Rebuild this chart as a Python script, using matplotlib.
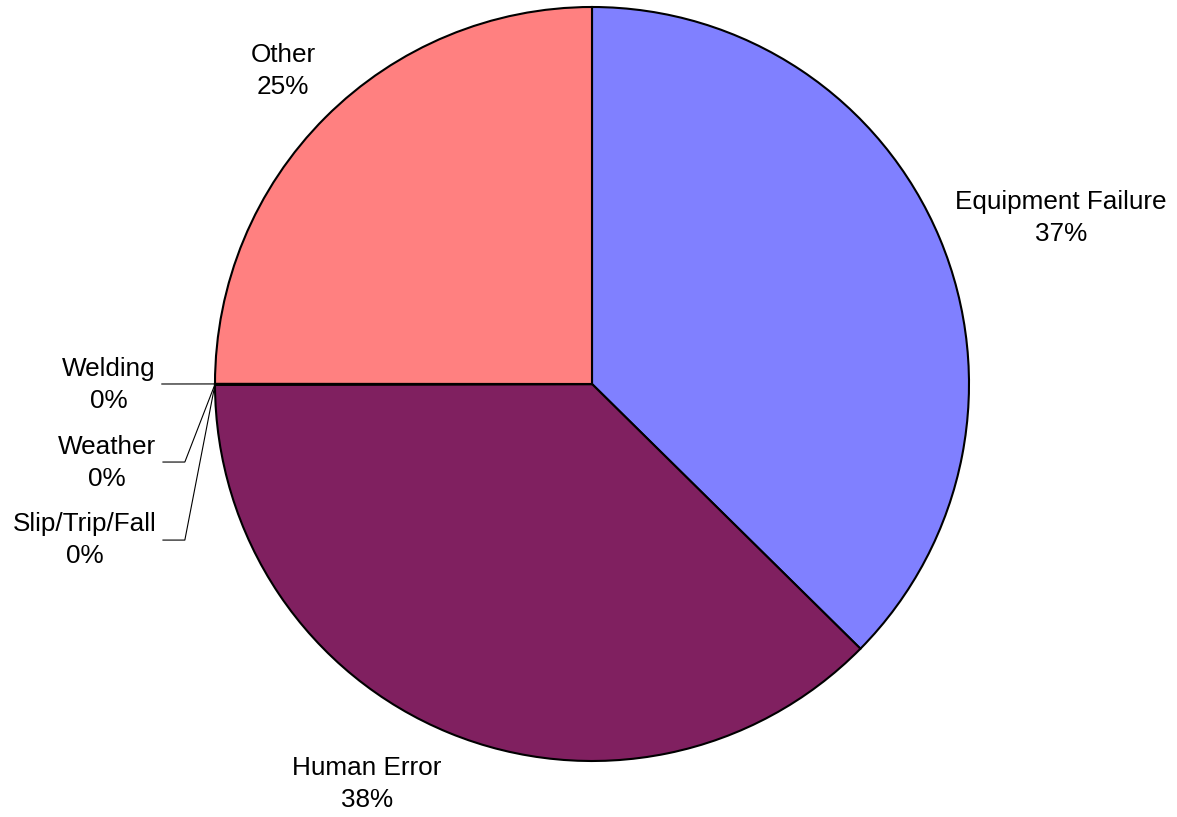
import numpy as np
import matplotlib.pyplot as plt

plt.rcParams["font.family"] = ["Liberation Sans", "DejaVu Sans"]

# data
causes = ["Equipment Failure", "Human Error", "Slip/Trip/Fall", "Weather", "Welding", "Other"]
shares = [37.4, 37.6, 0.01, 0.01, 0.01, 25.0]
colors = ["#8080FF", "#802060", "#FFFFC0", "#A0E0E0", "#600080", "#FF8080"]

# label layout (data units, pie radius = 1)
label_pos = {
    "Equipment Failure": (1.244, 0.440),
    "Human Error": (-0.597, -1.061),
    "Other": (-0.820, 0.830),
    "Welding": (-1.281, -0.003),
    "Weather": (-1.286, -0.210),
    "Slip/Trip/Fall": (-1.345, -0.414),
}
leader = {
    "Welding": [(-1.141, 0.0)],
    "Weather": [(-1.138, -0.207), (-1.080, -0.207)],
    "Slip/Trip/Fall": [(-1.138, -0.414), (-1.080, -0.414)],
}

fig = plt.figure(figsize=(11.77, 8.17), dpi=100)
ax = fig.add_axes([0, 0, 1, 1])

wedges, _ = ax.pie(
    shares,
    colors=colors,
    startangle=90,
    counterclock=False,
    wedgeprops=dict(edgecolor="black", linewidth=1.5),
)

total = sum(shares)
for w, name, v in zip(wedges, causes, shares):
    pct = f"{v / total * 100:.0f}%"
    x, y = label_pos[name]
    ax.text(x, y, f"{name}\n{pct}", ha="center", va="center", fontsize=18.8,
            linespacing=1.42, multialignment="center")
    if name in leader:
        mid = np.deg2rad((w.theta1 + w.theta2) / 2)
        pts = leader[name] + [(np.cos(mid), np.sin(mid))]
        ax.plot([p[0] for p in pts], [p[1] for p in pts], color="black", lw=0.8)

ax.set_xlim(-592 / 377, (1177 - 592) / 377)
ax.set_ylim(-(817 - 384) / 377, 384 / 377)
ax.set_aspect("auto")
ax.axis("off")

fig.savefig("out.png", dpi=100)
